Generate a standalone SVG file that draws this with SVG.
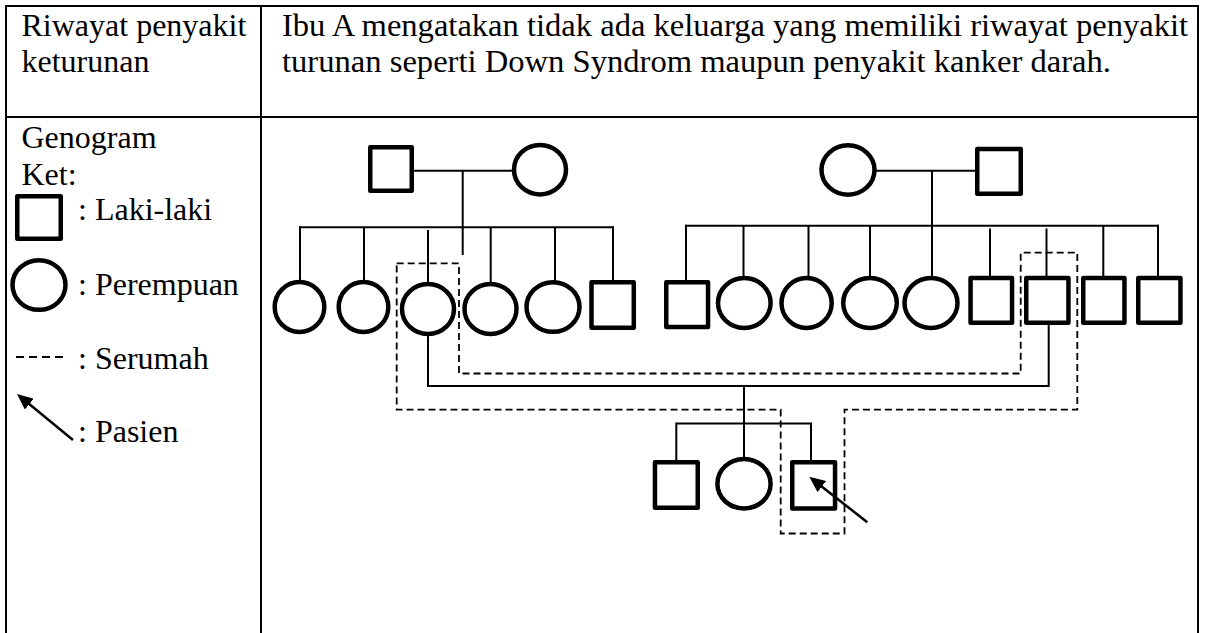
<svg xmlns="http://www.w3.org/2000/svg" width="1206" height="633" viewBox="0 0 1206 633">
  <defs>
    <style>
      .txt { font-family: "Liberation Serif", "Times New Roman", serif; font-size: 32px; fill: #000; }
      .grid { stroke: #000; stroke-width: 2; fill: none; }
      .sq { fill: #fff; stroke: #000; stroke-width: 4.5; stroke-linejoin: round; }
      .ci { fill: #fff; stroke: #000; stroke-width: 4.5; }
      .ln { stroke: #000; stroke-width: 2; fill: none; }
      .dash { stroke: #000; stroke-width: 1.8; fill: none; stroke-dasharray: 7 4; }
      .arr { stroke: #000; stroke-width: 2.5; fill: none; }
    </style>
    <marker id="head" viewBox="0 0 16 14" refX="10" refY="7" markerWidth="16" markerHeight="14" markerUnits="userSpaceOnUse" orient="auto">
      <path d="M0,0 L16,7 L0,14 z" fill="#000"/>
    </marker>
  </defs>
  <rect x="0" y="0" width="1206" height="633" fill="#fff"/>

  <!-- table -->
  <g id="table">
    <line class="grid" x1="5" y1="6" x2="1199" y2="6"/>
    <line class="grid" x1="6" y1="5" x2="6" y2="633"/>
    <line class="grid" x1="261" y1="5" x2="261" y2="633"/>
    <line class="grid" x1="1198" y1="5" x2="1198" y2="633"/>
    <line class="grid" x1="5" y1="117" x2="1199" y2="117"/>
    <text class="txt" x="21.5" y="36">Riwayat penyakit</text>
    <text class="txt" x="21.5" y="72">keturunan</text>
    <text class="txt" x="282" y="36" textLength="906" lengthAdjust="spacingAndGlyphs">Ibu A mengatakan tidak ada keluarga yang memiliki riwayat penyakit</text>
    <text class="txt" x="282" y="72" textLength="829" lengthAdjust="spacingAndGlyphs">turunan seperti Down Syndrom maupun penyakit kanker darah.</text>
    <text class="txt" x="21.5" y="148">Genogram</text>
    <text class="txt" x="21.5" y="185">Ket:</text>
  </g>

  <!-- legend -->
  <g id="legend">
    <rect class="sq" x="17.25" y="196.25" width="43.5" height="42.5"/>
    <text class="txt" x="78" y="220">: Laki-laki</text>
    <ellipse class="ci" cx="39" cy="285" rx="26.5" ry="24.8"/>
    <text class="txt" x="78" y="295">: Perempuan</text>
    <line class="dash" x1="16" y1="357" x2="67" y2="357" style="stroke-dasharray: 8 5"/>
    <text class="txt" x="78" y="369">: Serumah</text>
    <line class="arr" x1="73" y1="440" x2="21.6" y2="397.8" marker-end="url(#head)"/>
    <text class="txt" x="78" y="442">: Pasien</text>
  </g>

  <!-- connectors -->
  <g id="connectors">
    <!-- left grandparents -->
    <line class="ln" x1="414" y1="170.7" x2="514" y2="170.7"/>
    <line class="ln" x1="462.7" y1="170.7" x2="462.7" y2="255"/>
    <line class="ln" x1="299" y1="227.3" x2="614" y2="227.3"/>
    <line class="ln" x1="300" y1="226.3" x2="300" y2="281"/>
    <line class="ln" x1="364" y1="227.3" x2="364" y2="281"/>
    <line class="ln" x1="428" y1="230" x2="428" y2="283"/>
    <line class="ln" x1="490.7" y1="227.3" x2="490.7" y2="283"/>
    <line class="ln" x1="555" y1="227.3" x2="555" y2="281"/>
    <line class="ln" x1="613" y1="226.3" x2="613" y2="281"/>
    <!-- right grandparents -->
    <line class="ln" x1="874" y1="170.7" x2="976" y2="170.7"/>
    <line class="ln" x1="932" y1="170.7" x2="932" y2="277"/>
    <line class="ln" x1="685" y1="225.7" x2="1159" y2="225.7"/>
    <line class="ln" x1="686" y1="224.7" x2="686" y2="281"/>
    <line class="ln" x1="743.5" y1="225.7" x2="743.5" y2="277"/>
    <line class="ln" x1="808.5" y1="225.7" x2="808.5" y2="277"/>
    <line class="ln" x1="870" y1="225.7" x2="870" y2="277"/>
    <line class="ln" x1="990" y1="228.5" x2="990" y2="277"/>
    <line class="ln" x1="1046.5" y1="228.5" x2="1046.5" y2="277"/>
    <line class="ln" x1="1103.3" y1="225.7" x2="1103.3" y2="277"/>
    <line class="ln" x1="1158" y1="224.7" x2="1158" y2="277"/>
    <!-- parents couple -->
    <polyline class="ln" points="428,335 428,386 1048.7,386 1048.7,325"/>
    <line class="ln" x1="744" y1="386" x2="744" y2="458"/>
    <polyline class="ln" points="676.3,461 676.3,423.5 811,423.5 811,461"/>
    <!-- household (serumah) -->
    <polygon class="dash" points="396.7,263.3 459,263.3 459,373.5 1020.7,373.5 1020.7,252.7 1077.3,252.7 1077.3,409.7 844.5,409.7 844.5,533.5 780.7,533.5 780.7,409.7 396.7,409.7"/>
  </g>

  <!-- generation 1 -->
  <g id="gp-left-male"><rect class="sq" x="370.25" y="147.25" width="41.5" height="43.5"/></g>
  <g id="gp-left-female"><ellipse class="ci" cx="540" cy="169.7" rx="26" ry="24.7"/></g>
  <g id="gp-right-female"><ellipse class="ci" cx="848" cy="170" rx="26.5" ry="24.7"/></g>
  <g id="gp-right-male"><rect class="sq" x="977.25" y="148.9" width="43.5" height="44.8"/></g>

  <!-- generation 2, left siblings -->
  <g id="l1"><ellipse class="ci" cx="299.5" cy="307" rx="24.8" ry="25"/></g>
  <g id="l2"><ellipse class="ci" cx="363.5" cy="307" rx="24.8" ry="25"/></g>
  <g id="l3-mother"><ellipse class="ci" cx="428" cy="309" rx="26" ry="25"/></g>
  <g id="l4"><ellipse class="ci" cx="490.5" cy="309" rx="26" ry="25"/></g>
  <g id="l5"><ellipse class="ci" cx="553" cy="307" rx="26.5" ry="24.8"/></g>
  <g id="l6"><rect class="sq" x="591.5" y="282.25" width="42.3" height="45.5"/></g>

  <!-- generation 2, right siblings -->
  <g id="r1"><rect class="sq" x="666.25" y="282.25" width="41.8" height="44.8"/></g>
  <g id="r2"><ellipse class="ci" cx="744.3" cy="303" rx="26.3" ry="24.9"/></g>
  <g id="r3"><ellipse class="ci" cx="806.6" cy="303" rx="25.1" ry="24.9"/></g>
  <g id="r4"><ellipse class="ci" cx="870" cy="303" rx="26.8" ry="24.9"/></g>
  <g id="r5"><ellipse class="ci" cx="931" cy="303" rx="26.5" ry="24.9"/></g>
  <g id="r6"><rect class="sq" x="970.55" y="277.95" width="41.5" height="44.8"/></g>
  <g id="r7-father"><rect class="sq" x="1026.25" y="277.95" width="42.2" height="44.8"/></g>
  <g id="r8"><rect class="sq" x="1083.25" y="277.95" width="41.2" height="44.8"/></g>
  <g id="r9"><rect class="sq" x="1138.25" y="277.95" width="42.2" height="44.8"/></g>

  <!-- generation 3 -->
  <g id="c1"><rect class="sq" x="654.95" y="462.25" width="42.8" height="45.5"/></g>
  <g id="c2"><ellipse class="ci" cx="744" cy="483.7" rx="26.6" ry="24.8"/></g>
  <g id="c3-patient"><rect class="sq" x="792.25" y="462.25" width="42.8" height="46.2"/></g>

  <!-- patient arrow -->
  <g id="patient-arrow">
    <line class="arr" x1="867.3" y1="522.3" x2="814" y2="480.4" marker-end="url(#head)"/>
  </g>
</svg>
